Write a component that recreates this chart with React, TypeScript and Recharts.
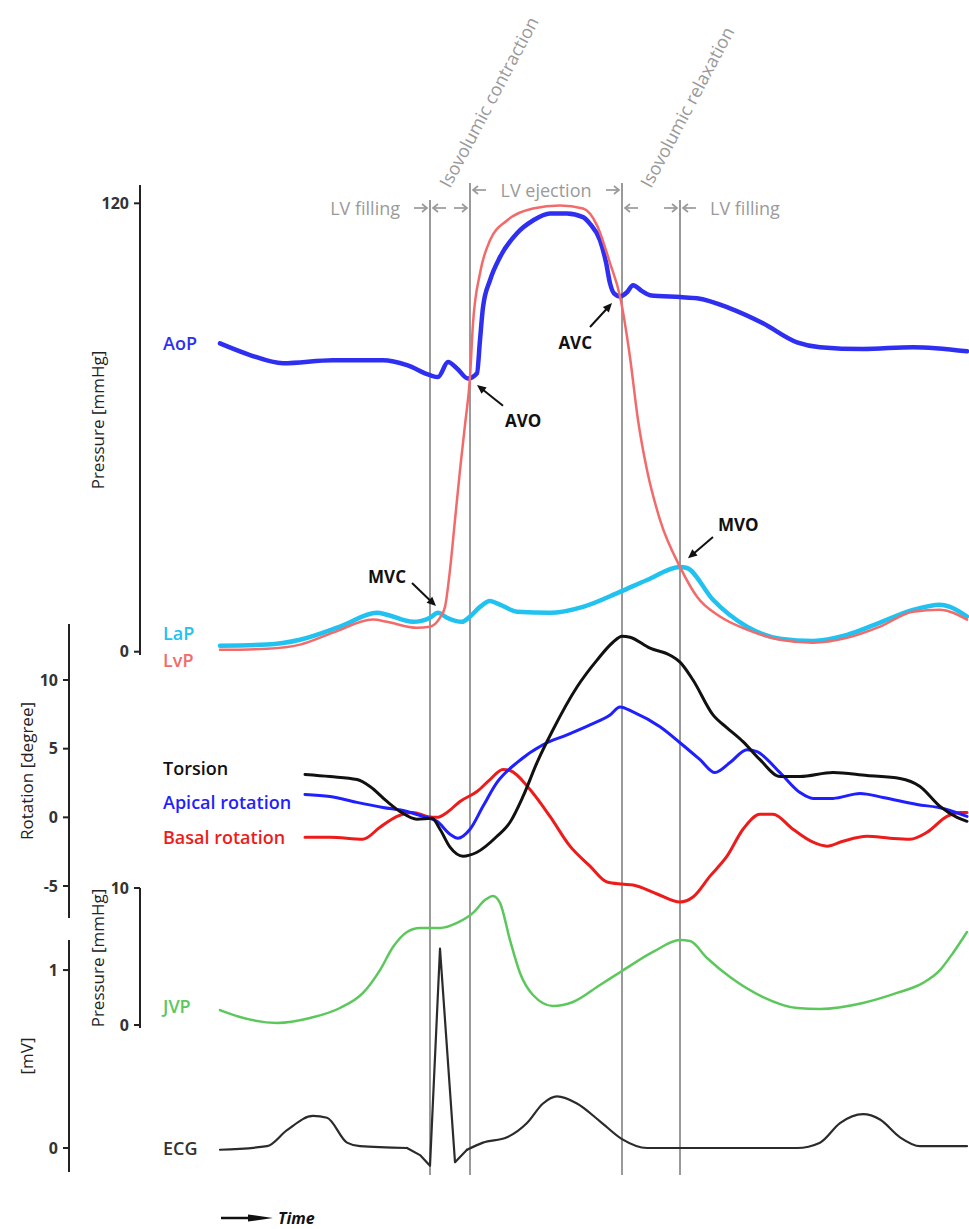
import React from "react";
import {
  LabelList,
  Line,
  LineChart,
  ReferenceArea,
  ReferenceLine,
  XAxis,
  YAxis,
} from "recharts";

type Pt = [number, number];

// time is ms from the start of the trace, one beat of ~750 ms
const T_END = 749;

// pressure traces [ms, mmHg]
const AOP: Pt[] = [
  [0, 82.5], [30, 79.4], [63, 77.2], [113, 78.0], [163, 78.0], [187, 76.7],
  [210, 74.0], [218, 73.5], [228, 77.5], [237, 75.8], [248, 73.1], [257, 74.5],
  [260, 83.4], [263, 92.2], [270, 99.4], [280, 105.6], [297, 112.0], [313, 115.4],
  [330, 117.3], [347, 117.3], [363, 116.3], [370, 114.5], [380, 110.1], [386, 104.2],
  [390, 98.6], [394, 95.9], [400, 95.1], [407, 96.2], [413, 98.1], [422, 96.5],
  [430, 95.4], [460, 94.9], [477, 94.6], [510, 91.9], [543, 87.9], [577, 82.8],
  [600, 81.5], [643, 81.0], [693, 81.5], [747, 80.4],
];
const LVP: Pt[] = [
  [0, 0.5], [47, 0.8], [80, 1.9], [113, 5.1], [153, 8.6], [167, 8.0], [197, 6.4],
  [210, 6.7], [220, 9.1], [225, 12.0], [230, 21.9], [235, 35.3], [240, 48.6],
  [245, 60.7], [250, 73.5], [253, 87.9], [260, 101.3], [270, 110.1], [287, 115.4],
  [313, 118.6], [340, 119.4], [363, 118.6], [377, 114.1], [390, 104.0], [400, 95.1],
  [410, 78.8], [418, 62.0], [427, 48.6], [440, 35.3], [460, 22.7], [477, 14.7],
  [500, 9.4], [527, 5.9], [560, 3.2], [593, 2.4], [627, 3.7], [660, 6.7],
  [693, 10.7], [720, 11.2], [730, 10.7], [747, 8.6],
];
const LAP: Pt[] = [
  [0, 1.6], [47, 1.9], [80, 3.2], [120, 6.7], [157, 10.4], [167, 9.9], [193, 8.0],
  [210, 9.1], [218, 10.4], [227, 9.1], [242, 8.0], [250, 9.4], [260, 12.0],
  [270, 13.6], [280, 12.6], [297, 10.7], [330, 10.4], [363, 12.0], [400, 16.0],
  [427, 19.2], [460, 22.7], [467, 22.4], [493, 13.9], [527, 6.7], [560, 3.5],
  [593, 2.9], [627, 4.5], [660, 7.8], [693, 11.2], [720, 12.6], [730, 12.0], [747, 9.4],
];

// LV rotation [ms, degree]
const TORSION: Pt[] = [
  [85, 3.12], [110, 2.97], [137, 2.75], [150, 2.25], [167, 1.16], [180, 0.43],
  [197, -0.14], [212, -0.07], [220, -0.87], [230, -2.17], [243, -2.83], [257, -2.54],
  [277, -1.38], [290, -0.36], [303, 1.52], [317, 3.99], [333, 6.38], [357, 9.49],
  [377, 11.45], [393, 12.75], [402, 13.19], [410, 13.12], [430, 12.32], [450, 11.81],
  [460, 11.3], [473, 10.0], [493, 7.46], [507, 6.52], [523, 5.51], [540, 4.2],
  [560, 2.97], [580, 2.97], [613, 3.26], [647, 3.04], [680, 2.83], [700, 2.25],
  [720, 0.8], [737, 0], [747, -0.29],
];
const APICAL: Pt[] = [
  [85, 1.67], [110, 1.52], [137, 1.09], [163, 0.72], [187, 0.43], [203, 0.07],
  [217, -0.29], [230, -1.23], [238, -1.52], [250, -0.87], [263, 0.8], [277, 2.54],
  [297, 3.99], [323, 5.29], [347, 6.01], [370, 6.74], [390, 7.46], [400, 8.04],
  [413, 7.68], [440, 6.59], [460, 5.43], [480, 4.2], [495, 3.26], [510, 3.99],
  [527, 4.93], [537, 4.78], [560, 3.26], [580, 1.81], [593, 1.38], [613, 1.38],
  [640, 1.74], [663, 1.45], [697, 0.94], [723, 0.65], [747, 0.07],
];
const BASAL: Pt[] = [
  [85, -1.45], [110, -1.45], [143, -1.59], [160, -0.72], [177, 0.07], [193, 0.36],
  [207, 0.07], [217, 0], [227, 0.36], [240, 1.16], [257, 1.88], [270, 2.75],
  [283, 3.48], [290, 3.41], [310, 2.03], [330, 0.07], [350, -2.1], [370, -3.55],
  [387, -4.71], [402, -4.86], [413, -4.93], [437, -5.58], [460, -6.16], [473, -5.8],
  [490, -4.28], [507, -2.83], [523, -0.87], [540, 0.22], [553, 0.22], [573, -0.87],
  [593, -1.81], [607, -2.1], [623, -1.74], [647, -1.38], [670, -1.52], [690, -1.59],
  [707, -1.09], [727, 0.07], [740, 0.36], [747, 0.36],
];

// jugular venous pressure [ms, mmHg]
const JVP: Pt[] = [
  [0, 1.09], [20, 0.58], [57, 0.15], [90, 0.51], [120, 1.24], [143, 2.34],
  [160, 4.01], [173, 5.69], [187, 6.79], [200, 7.08], [220, 7.08], [237, 7.45],
  [253, 8.18], [265, 9.12], [273, 9.42], [280, 8.91], [290, 6.2], [300, 3.8],
  [313, 2.19], [333, 1.39], [353, 1.68], [380, 2.92], [402, 3.94], [433, 5.33],
  [460, 6.2], [470, 6.13], [487, 4.89], [510, 3.5], [543, 2.04], [577, 1.24],
  [600, 1.17], [643, 1.61], [677, 2.34], [703, 3.07], [720, 4.01], [733, 5.26],
  [747, 6.79],
];

// ECG [ms, mV] — split so the QRS stays a sharp spike
const ECG_P: Pt[] = [
  [0, -0.01], [47, 0.01], [67, 0.1], [93, 0.18], [107, 0.17], [127, 0.03],
  [140, 0.01], [187, 0],
];
const ECG_QRS: Pt[] = [[187, 0], [200, -0.04], [210, -0.1], [220, 1.12], [235, -0.08], [247, -0.01]];
const ECG_T: Pt[] = [
  [247, -0.01], [263, 0.03], [287, 0.06], [307, 0.14], [323, 0.25], [337, 0.29],
  [357, 0.25], [380, 0.15], [402, 0.05], [427, 0], [460, 0], [577, 0], [600, 0.03],
  [620, 0.14], [643, 0.19], [660, 0.16], [680, 0.06], [700, 0.01], [747, 0.01],
];

const PRESSURE_TICKS = [0, 120];
const ROTATION_TICKS = [-5, 0, 5, 10];
const JVP_TICKS = [0, 10];
const ECG_TICKS = [0, 1];

// valve events, ms
const EVENTS = [
  { name: "MVC", t: 210 },
  { name: "AVO", t: 250 },
  { name: "AVC", t: 402 },
  { name: "MVO", t: 460 },
];

const PHASES = [
  { name: "LV filling", from: 0, to: 210 },
  { name: "Isovolumic contraction", from: 210, to: 250 },
  { name: "LV ejection", from: 250, to: 402 },
  { name: "Isovolumic relaxation", from: 402, to: 460 },
  { name: "LV filling", from: 460, to: T_END },
];

// arrows onto the pressure traces, [ms, mmHg]
const VALVE_MARKS: { name: string; tip: Pt; tail: Pt }[] = [
  { name: "AVO", tip: [257, 71.4], tail: [283, 65.8] },
  { name: "AVC", tip: [392, 93.3], tail: [370, 86.9] },
  { name: "MVC", tip: [216, 12.2], tail: [192, 18.4] },
  { name: "MVO", tip: [468, 25.0], tail: [493, 30.7] },
];

// ---- layout / style ----
const W = 969;
const H = 1229;
const T0_PX = 220; // where the traces start
const LABEL_X = 163;
const FONT = "'Open Sans', 'DejaVu Sans', sans-serif";
const INK = "#222";
const GRAY = "#9a9a9a";

const MARK_LAYOUT: Record<string, { anchor: "start" | "end"; dx: number; dy: number }> = {
  AVO: { anchor: "start", dx: 2, dy: 21 },
  AVC: { anchor: "end", dx: 2, dy: 22 },
  MVC: { anchor: "end", dx: -6, dy: 0 },
  MVO: { anchor: "start", dx: 5, dy: -6 },
};

const EVENT_ROW: Record<string, "high" | "low"> = { MVC: "low", AVO: "high", AVC: "high", MVO: "low" };

const PHASE_LAYOUT: { row: "high" | "low"; start: boolean; end: boolean; text: string }[] = [
  { row: "low", start: false, end: true, text: "end" },
  { row: "low", start: true, end: true, text: "rotated" },
  { row: "high", start: true, end: true, text: "middle" },
  { row: "low", start: true, end: true, text: "rotated" },
  { row: "low", start: true, end: false, text: "start" },
];

const rows = (pts: Pt[]) => pts.map(([t, v]) => ({ t, v }));

const nameAt = (text: string, color: string, dy: number) => (p: any) => {
  if (p.index !== 0) return null;
  const y = (p.y ?? p.viewBox?.y) + dy;
  return (
    <text x={LABEL_X} y={y} dominantBaseline="central" fill={color} fontSize={18} fontWeight={600} fontFamily={FONT}>
      {text}
    </text>
  );
};

function trace(
  key: string,
  pts: Pt[],
  color: string,
  width: number,
  label?: { text: string; dy: number; color?: string },
  type: "monotone" | "linear" = "monotone",
) {
  return (
    <Line
      key={key}
      data={rows(pts)}
      dataKey="v"
      type={type}
      stroke={color}
      strokeWidth={width}
      strokeLinejoin="round"
      strokeLinecap="round"
      dot={false}
      activeDot={false}
      isAnimationActive={false}
    >
      {label && <LabelList dataKey="v" content={nameAt(label.text, label.color ?? color, label.dy)} />}
    </Line>
  );
}

const axisTitle = (text: string) => (p: any) => {
  const vb = p.viewBox;
  const x = vb.x + vb.width - 43;
  const y = vb.y + vb.height / 2;
  return (
    <text x={x} y={y} transform={`rotate(-90 ${x} ${y})`} textAnchor="middle" dominantBaseline="central" fill="#222" fontSize={17} fontFamily={FONT}>
      {text}
    </text>
  );
};

function Panel({
  axisX,
  top,
  bottom,
  domain,
  ticks,
  title,
  children,
}: {
  axisX: number;
  top: number;
  bottom: number;
  domain: [number, number];
  ticks: number[];
  title: string;
  children: React.ReactNode;
}) {
  const pad = 40;
  const yW = 60;
  return (
    <div style={{ position: "absolute", left: 0, top: top - pad }}>
      <LineChart width={W} height={bottom - top + 2 * pad} margin={{ top: pad, right: 0, bottom: pad, left: axisX - yW }}>
        <XAxis type="number" dataKey="t" domain={[axisX - T0_PX, T_END]} hide />
        <YAxis
          type="number"
          domain={domain}
          ticks={ticks}
          interval={0}
          width={yW}
          tickSize={6}
          tickMargin={5}
          axisLine={{ stroke: INK, strokeWidth: 2 }}
          tickLine={{ stroke: INK, strokeWidth: 2 }}
          tick={{ fill: "#333", fontSize: 16, fontWeight: 700, fontFamily: FONT }}
          label={{ content: axisTitle(title) }}
        />
        {children}
      </LineChart>
    </div>
  );
}

function ValveArrow(p: any) {
  const { x1, y1, x2, y2, name } = p;
  const a = Math.atan2(y2 - y1, x2 - x1);
  const L = 10;
  const s = 0.42;
  const h1 = `${x2 - L * Math.cos(a - s)},${y2 - L * Math.sin(a - s)}`;
  const h2 = `${x2 - L * Math.cos(a + s)},${y2 - L * Math.sin(a + s)}`;
  const lay = MARK_LAYOUT[name];
  return (
    <g>
      <line x1={x1} y1={y1} x2={x2 - 6 * Math.cos(a)} y2={y2 - 6 * Math.sin(a)} stroke="#111" strokeWidth={2} />
      <polygon points={`${x2},${y2} ${h1} ${h2}`} fill="#111" />
      <text x={x1 + lay.dx} y={y1 + lay.dy} textAnchor={lay.anchor} fill="#111" fontSize={17} fontWeight={700} fontFamily={FONT}>
        {name}
      </text>
    </g>
  );
}

function grayArrow(tipX: number, tailX: number, y: number) {
  const d = Math.sign(tipX - tailX);
  return (
    <g stroke={GRAY} strokeWidth={1.7} fill="none">
      <line x1={tailX} y1={y} x2={tipX} y2={y} />
      <polyline points={`${tipX - d * 5},${y - 4} ${tipX},${y} ${tipX - d * 5},${y + 4}`} />
    </g>
  );
}

const phaseLabel = (i: number) => (p: any) => {
  const { x, y, width } = p.viewBox;
  const ph = PHASES[i];
  const st = PHASE_LAYOUT[i];
  const rowY = y + (st.row === "high" ? 7 : 25);
  const x1 = x + width;
  const cx = x + width / 2;
  const txt = { fill: GRAY, fontSize: 18, fontFamily: FONT };
  let label: React.ReactNode;
  if (st.text === "rotated") {
    const ay = y + 6;
    label = (
      <text x={cx} y={ay} transform={`rotate(-62 ${cx} ${ay})`} {...txt}>
        {ph.name}
      </text>
    );
  } else {
    const tx = st.text === "end" ? x1 - 30 : st.text === "start" ? x + 30 : cx;
    label = (
      <text x={tx} y={rowY} textAnchor={st.text} dominantBaseline="central" {...txt}>
        {ph.name}
      </text>
    );
  }
  return (
    <g>
      {st.start && grayArrow(x + 3, x + 16, rowY)}
      {st.end && grayArrow(x1 - 3, x1 - 16, rowY)}
      {label}
    </g>
  );
};

const eventLine = (name: string) => (p: any) => {
  const top = Math.min(p.y1, p.y2) + (EVENT_ROW[name] === "low" ? 17 : 0);
  const bottom = Math.max(p.y1, p.y2);
  return <line x1={p.x1} x2={p.x2} y1={top} y2={bottom} stroke={GRAY} strokeWidth={2} />;
};

const timeArrow = (p: any) => {
  const { x, y } = p.viewBox;
  const ay = y + 43;
  return (
    <g>
      <line x1={x + 1} y1={ay} x2={x + 32} y2={ay} stroke="#111" strokeWidth={2.5} />
      <polygon points={`${x + 28},${ay - 3.5} ${x + 53},${ay} ${x + 28},${ay + 3.5}`} fill="#111" />
      <text x={x + 58} y={ay} dominantBaseline="central" fill="#111" fontSize={16} fontWeight={700} fontStyle="italic" fontFamily={FONT}>
        Time
      </text>
    </g>
  );
};

// an invisible series holding the event times so the overlay chart has data
const EVENT_ROWS = [{ t: 0, v: 0 }, ...EVENTS.map((e) => ({ t: e.t, v: 0.5 })), { t: T_END, v: 1 }];

function PhaseChart() {
  const lineTop = 183;
  const lineBottom = 1175;
  return (
    <div style={{ position: "absolute", left: 0, top: 0 }}>
      <LineChart width={W} height={H} data={EVENT_ROWS} margin={{ top: lineTop, right: 0, bottom: 0, left: T0_PX }}>
        <XAxis
          type="number"
          dataKey="t"
          domain={[0, T_END]}
          height={H - lineBottom}
          axisLine={false}
          tickLine={false}
          tick={false}
          label={{ content: timeArrow }}
        />
        <YAxis hide type="number" domain={[0, 1]} />
        <Line dataKey="v" stroke="none" dot={false} activeDot={false} isAnimationActive={false} />
        {PHASES.map((ph, i) => (
          <ReferenceArea key={i} x1={ph.from} x2={ph.to} fill="none" stroke="none" fillOpacity={0} label={{ content: phaseLabel(i) }} />
        ))}
        {EVENTS.map((ev) => (
          <ReferenceLine key={ev.name} x={ev.t} shape={eventLine(ev.name)} />
        ))}
      </LineChart>
    </div>
  );
}

export default function App() {
  return (
    <div style={{ position: "absolute", left: 0, top: 0, width: W, height: H, background: "#fff", overflow: "hidden" }}>
      <PhaseChart />
      <Panel axisX={140} top={185} bottom={655} domain={[-0.88, 124.9]} ticks={PRESSURE_TICKS} title="Pressure [mmHg]">
        {trace("aop", AOP, "#2f2ff2", 4.5, { text: "AoP", dy: 0 })}
        {trace("lap", LAP, "#22c2f0", 4.5, { text: "LaP", dy: -13 })}
        {trace("lvp", LVP, "#f36a6a", 2.5, { text: "LvP", dy: 10 })}
        {VALVE_MARKS.map((m) => (
          <ReferenceLine
            key={m.name}
            segment={[
              { x: m.tail[0], y: m.tail[1] },
              { x: m.tip[0], y: m.tip[1] },
            ]}
            shape={(p: any) => <ValveArrow {...p} name={m.name} />}
          />
        ))}
      </Panel>
      <Panel axisX={69} top={624} bottom={918} domain={[-7.33, 14.08]} ticks={ROTATION_TICKS} title="Rotation [degree]">
        {trace("basal", BASAL, "#ee1b1b", 3, { text: "Basal rotation", dy: 0 })}
        {trace("apical", APICAL, "#1f1fff", 3, { text: "Apical rotation", dy: 8 })}
        {trace("torsion", TORSION, "#111", 3, { text: "Torsion", dy: -7 })}
      </Panel>
      <Panel axisX={140} top={888} bottom={1028} domain={[-0.22, 10]} ticks={JVP_TICKS} title="Pressure [mmHg]">
        {trace("jvp", JVP, "#5cc85c", 2.5, { text: "JVP", dy: -4 })}
      </Panel>
      <Panel axisX={69} top={940} bottom={1172} domain={[-0.135, 1.169]} ticks={ECG_TICKS} title="[mV]">
        {trace("ecgP", ECG_P, "#2b2b2b", 2.2, { text: "ECG", dy: -2, color: "#333" })}
        {trace("ecgQrs", ECG_QRS, "#2b2b2b", 2.2, undefined, "linear")}
        {trace("ecgT", ECG_T, "#2b2b2b", 2.2)}
      </Panel>
    </div>
  );
}
